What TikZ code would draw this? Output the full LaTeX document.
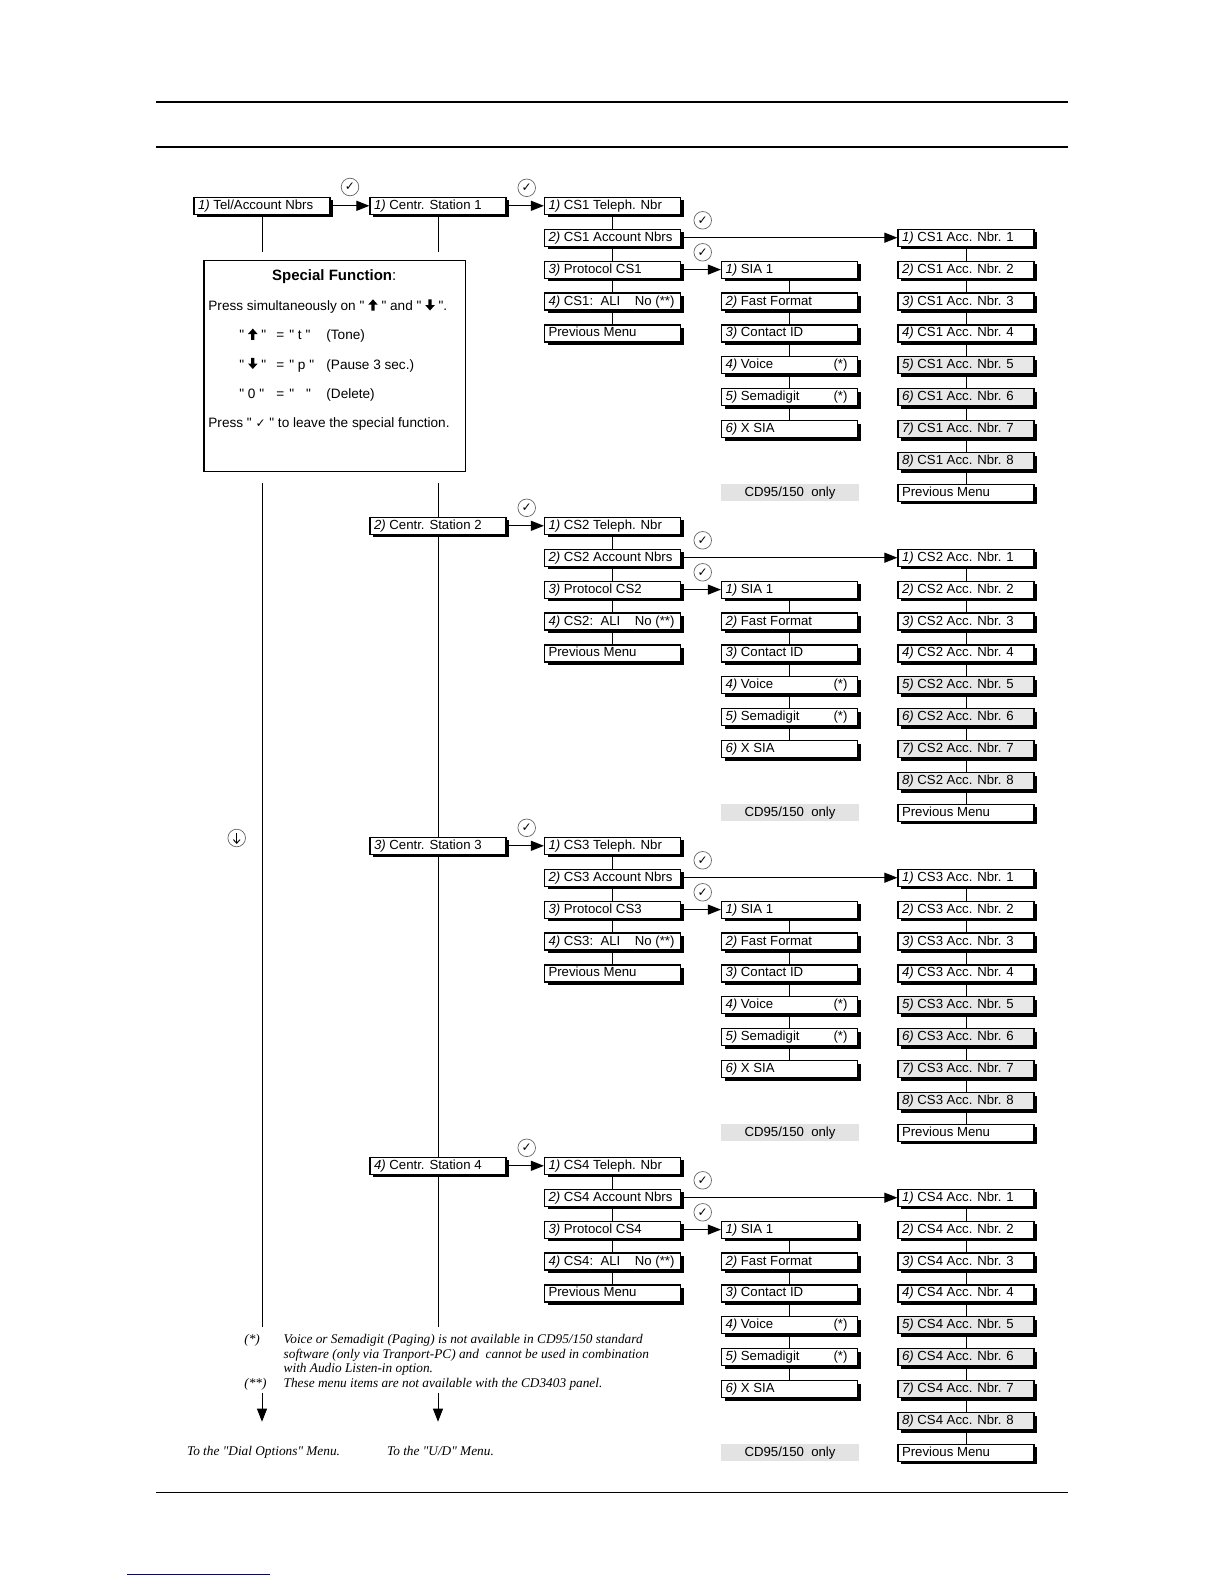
\documentclass[tikz,border=0pt]{standalone}
\usepackage{fontspec}
\setmainfont{Liberation Sans}
\newfontfamily\arialf{Liberation Sans}
\newfontfamily\serifit{Liberation Serif}
\newfontfamily\dejavu{DejaVu Sans}
\usetikzlibrary{arrows.meta,shadows,backgrounds}
\newcommand\bxfont{\arialf\fontsize{6.6pt}{7.8pt}\selectfont}
\newcommand\sffont{\arialf\fontsize{6.8pt}{8pt}\selectfont}
\newcommand\fnfont{\serifit\itshape\fontsize{6.65pt}{7.4pt}\selectfont}
\newcommand\bx[1]{\makebox[64pt][l]{#1}}
\newcommand\myup{\tikz[baseline=0pt,x=1pt,y=1pt]\fill (-0.8,0)--(0.8,0)--(0.8,2.9)--(2.4,2.9)--(0,5.6)--(-2.4,2.9)--(-0.8,2.9)--cycle;}
\newcommand\mydn{\tikz[baseline=0pt,x=1pt,y=1pt]\fill (-0.8,5.6)--(0.8,5.6)--(0.8,2.7)--(2.4,2.7)--(0,0)--(-2.4,2.7)--(-0.8,2.7)--cycle;}
\newcommand\mychk{{\dejavu\fontsize{6pt}{6pt}\selectfont ✓}}
\begin{document}
\begin{tikzpicture}[x=0.5pt,y=-0.5pt,
  box/.style={draw, line width=0.6pt, fill=white, minimum width=68pt, minimum height=8.5pt,
    inner xsep=2pt, inner ysep=0pt, text height=4.8pt, text depth=1.3pt, font=\bxfont,
    drop shadow={shadow xshift=1.5pt, shadow yshift=-1.5pt, fill=black, opacity=1}},
  gbox/.style={box, fill=gray!18},
  conn/.style={line width=0.5pt},
  arr/.style={conn, -{Triangle[length=6.5pt,width=5pt]}},
  chk/.style={circle, draw=black!60, line width=0.35pt, minimum size=8.8pt, inner sep=0pt,
    font=\dejavu\fontsize{6pt}{6pt}\selectfont},
  cd/.style={fill=gray!22, minimum width=69pt, minimum height=8.5pt, inner sep=0pt, font=\bxfont},
  txt/.style={inner sep=0pt, font=\sffont, anchor=base west},
  fn/.style={inner sep=0pt, font=\fnfont, anchor=base west}]
\useasboundingbox (0,0) rectangle (1224,1584);
% page rules
\draw[line width=1pt] (156,102) -- (1068,102);
\draw[line width=0.6pt] (156,147) -- (1068,147);
\draw[line width=0.6pt] (156,1492.6) -- (1068,1492.6);
\draw[line width=0.5pt, blue!60!black] (127,1574) -- (270,1574);

% top level
\node[box] (tel) at (262,205.8) {\bx{\textit{1)} Tel/Account Nbrs}};
\node[chk] (ck0) at (350,187) {✓};

\foreach \bk in {1,2,3,4}{
  \pgfmathsetmacro\ys{205.8+320*(\bk-1)}
  \node[box] (st\bk) at (438,\ys) {\bx{\textit{\bk)} Centr. Station \bk}};
  % column 3
  \node[box] (c\bk-0) at (612.5,\ys) {\bx{\textit{1)} CS\bk\ Teleph. Nbr}};
  \node[box] (c\bk-1) at (612.5,\ys+31.9) {\bx{\textit{2)} CS\bk\ Account Nbrs}};
  \node[box] (c\bk-2) at (612.5,\ys+63.8) {\bx{\textit{3)} Protocol CS\bk}};
  \node[box] (c\bk-3) at (612.5,\ys+95.7) {\bx{\textit{4)} CS\bk:\ \ ALI\hfill No (**)\hspace{1pt}}};
  \node[box] (c\bk-4) at (612.5,\ys+127.6) {\bx{Previous Menu}};
  % column 4
  \node[box] (p\bk-2) at (789.5,\ys+63.8) {\bx{\textit{1)} SIA 1}};
  \node[box] (p\bk-3) at (789.5,\ys+95.7) {\bx{\textit{2)} Fast Format}};
  \node[box] (p\bk-4) at (789.5,\ys+127.6) {\bx{\textit{3)} Contact ID}};
  \node[box] (p\bk-5) at (789.5,\ys+159.5) {\bx{\textit{4)} Voice\hfill(*)\hspace{3pt}}};
  \node[box] (p\bk-6) at (789.5,\ys+191.4) {\bx{\textit{5)} Semadigit\hfill(*)\hspace{3pt}}};
  \node[box] (p\bk-7) at (789.5,\ys+223.3) {\bx{\textit{6)} X SIA}};
  \node[cd] (cd\bk) at (790,\ys+287.1) {CD95/150\ \ only};
  % column 5
  \foreach \kk in {1,2,3,4}{
    \node[box] (a\bk-\kk) at (966,\ys+31.9*\kk) {\bx{\textit{\kk)} CS\bk\ Acc. Nbr. \kk}};
  }
  \foreach \kk in {5,6,7,8}{
    \node[gbox] (a\bk-\kk) at (966,\ys+31.9*\kk) {\bx{\textit{\kk)} CS\bk\ Acc. Nbr. \kk}};
  }
  \node[box] (a\bk-9) at (966,\ys+287.1) {\bx{Previous Menu}};
  % connectors
  \foreach \i/\j in {0/1,1/2,2/3,3/4}{\draw[conn] (c\bk-\i.south) -- (c\bk-\j.north);}
  \foreach \i/\j in {2/3,3/4,4/5,5/6,6/7}{\draw[conn] (p\bk-\i.south) -- (p\bk-\j.north);}
  \foreach \i/\j in {1/2,2/3,3/4,4/5,5/6,6/7,7/8,8/9}{\draw[conn] (a\bk-\i.south) -- (a\bk-\j.north);}
  \draw[arr] (st\bk.east) -- (c\bk-0.west);
  \draw[arr] (c\bk-1.east) -- (a\bk-1.west);
  \draw[arr] (c\bk-2.east) -- (p\bk-2.west);
  % check marks
  \node[chk] (ka\bk) at (526.7,\ys-18) {✓};
  \node[chk] (kb\bk) at (702.7,\ys+14.5) {✓};
  \node[chk] (kc\bk) at (702.7,\ys+46.5) {✓};
}
\draw[arr] (tel.east) -- (st1.west);

% special function box
\node[draw, line width=0.6pt, anchor=north west, minimum width=130.85pt, minimum height=105.5pt, inner sep=0pt] (sf) at (203.3,260) {};
\node[inner sep=0pt, font=\arialf\fontsize{7.5pt}{9pt}\selectfont, anchor=base] (sft) at (334.2,280) {\textbf{Special Function}:};
\node[txt] (sf1) at (208,310.5) {Press simultaneously on " \myup\ " and " \mydn\ ".};
\node[txt] (sf2a) at (239,339.8) {" \myup\ "};
\node[txt] (sf2b) at (276,339.8) {=};
\node[txt] (sf2c) at (289,339.8) {" t "};
\node[txt] (sf2d) at (326,339.8) {(Tone)};
\node[txt] (sf3a) at (239,369) {" \mydn\ "};
\node[txt] (sf3b) at (276,369) {=};
\node[txt] (sf3c) at (289,369) {" p "};
\node[txt] (sf3d) at (326,369) {(Pause 3 sec.)};
\node[txt] (sf4a) at (239,398.3) {" 0 "};
\node[txt] (sf4b) at (276,398.3) {=};
\node[txt] (sf4c) at (289,398.3) {"\hspace{6pt}"};
\node[txt] (sf4d) at (326,398.3) {(Delete)};
\node[txt] (sf5) at (208,427.6) {Press " \mychk\ " to leave the special function.};

% vertical lines
\coordinate (tl1) at (262,251.7);
\coordinate (sl1) at (438,251.7);
\draw[conn] (tel.south) -- (tl1);
\draw[conn] (st1.south) -- (sl1);
\coordinate (tl2) at (262,482.7);
\coordinate (tl3) at (262,1326.7);
\coordinate (tl4) at (262,1393.3);
\coordinate (tl5) at (262,1421.7);
\coordinate (sl2) at (438,482.7);
\coordinate (sl3) at (438,1326.7);
\coordinate (sl4) at (438,1393.3);
\coordinate (sl5) at (438,1421.7);
\begin{pgfonlayer}{background}
\draw[conn] (tl2) -- (tl3);
\draw[conn] (sl2) -- (sl3);
\end{pgfonlayer}
\draw[arr] (tl4) -- (tl5);
\draw[arr] (sl4) -- (sl5);

% down-arrow circle
\node[chk] (dn) at (236.7,838) {};
\draw[line width=0.45pt] ([yshift=2.6pt]dn.center) -- ([yshift=-2.6pt]dn.center);
\draw[line width=0.45pt] ([shift={(-1.7pt,-0.8pt)}]dn.center) -- ([yshift=-2.6pt]dn.center) -- ([shift={(1.7pt,-0.8pt)}]dn.center);

% footnotes
\node[fn] (fa) at (244,1343) {(*)};
\node[fn] (fa1) at (283.3,1343) {Voice or Semadigit (Paging) is not available in CD95/150 standard};
\node[fn] (fa2) at (283.3,1358) {software (only via Tranport-PC) and\ \ cannot be used in combination};
\node[fn] (fa3) at (283.3,1372.6) {with Audio Listen-in option.};
\node[fn] (fb) at (244,1387.4) {(**)};
\node[fn] (fb1) at (283.3,1387.4) {These menu items are not available with the CD3403 panel.};
\node[fn] (go1) at (186.7,1455) {To the "Dial Options" Menu.};
\node[fn] (go2) at (386.7,1455) {To the "U/D" Menu.};
\end{tikzpicture}
\end{document}
